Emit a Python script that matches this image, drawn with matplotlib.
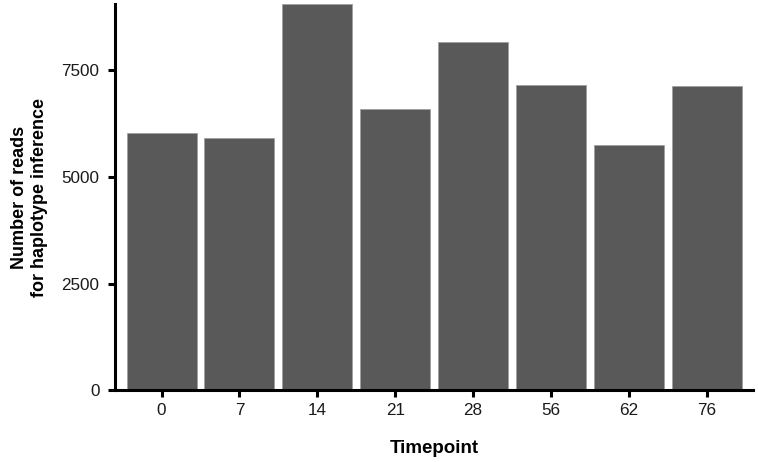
import matplotlib.pyplot as plt

plt.rcParams['font.family'] = ['Liberation Sans', 'DejaVu Sans']

# Data
timepoints = ['0', '7', '14', '21', '28', '56', '62', '76']
reads = [6021, 5910, 9054, 6599, 8161, 7164, 5762, 7140]

fig = plt.figure(figsize=(7.58, 4.62), dpi=100)
ax = fig.add_axes([0.1515, 0.1558, 0.8425, 0.835])

x = range(len(timepoints))
ax.bar(x, reads, width=0.9, color='#595959', edgecolor='#a0a0a0', linewidth=0.6)

ax.set_xlim(-0.6, len(timepoints) - 1 + 0.6)
ax.set_ylim(0, max(reads))
ax.set_xticks(list(x))
ax.set_xticklabels(timepoints)
ax.set_yticks([0, 2500, 5000, 7500])

for side in ['top', 'right']:
    ax.spines[side].set_visible(False)
for side in ['left', 'bottom']:
    ax.spines[side].set_linewidth(2.2)
ax.tick_params(axis='both', width=2.2, length=5, labelsize=12.3, colors='black')
ax.tick_params(axis='x', pad=4.5)
ax.tick_params(axis='y', pad=6)
for lab in ax.get_xticklabels() + ax.get_yticklabels():
    lab.set_color('#1a1a1a')

ax.set_xlabel('Timepoint', fontsize=13.5, fontweight='bold', labelpad=16)
ax.set_ylabel('Number of reads\nfor haplotype inference', fontsize=13,
              fontweight='bold', labelpad=10, linespacing=1.2)

fig.savefig('out.png', dpi=100)
